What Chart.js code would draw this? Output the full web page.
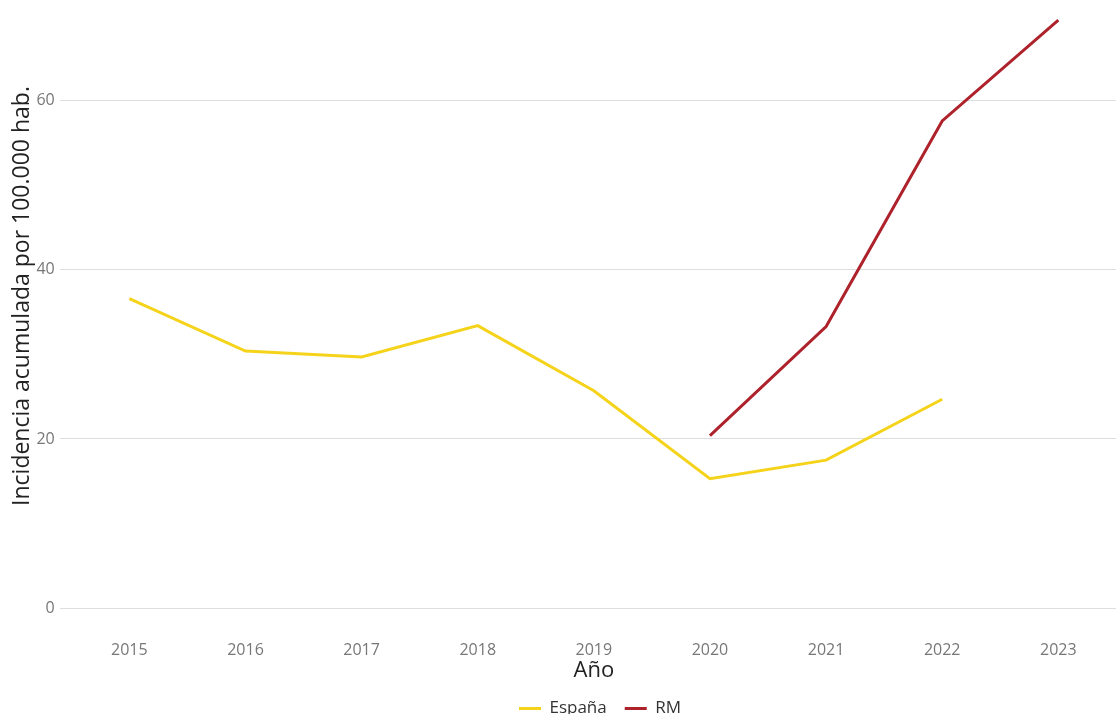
<!DOCTYPE html>
<html>
<head>
<meta charset="utf-8">
<script src="https://cdn.jsdelivr.net/npm/chart.js@4/dist/chart.umd.min.js"></script>
<style>
  html, body { margin: 0; padding: 0; background: #fff; overflow: hidden; }
  #wrap { width: 1116px; height: 714px; overflow: hidden; }
  #incChart { display: block; margin-top: -13px; }
</style>
</head>
<body>
<div id="wrap"><canvas id="incChart" width="1200" height="740"></canvas></div>
<script>
const years = [2015, 2016, 2017, 2018, 2019, 2020, 2021, 2022, 2023];
const espana = [36.6, 30.4, 29.7, 33.4, 25.7, 15.3, 17.5, 24.7, null];
const rm = [null, null, null, null, null, 20.4, 33.3, 57.6, 69.5];
const yTicks = [0, 20, 40, 60];
const yTitle = 'Incidencia acumulada por 100.000 hab.';

function toPoints(vals) {
    return years.map((y, i) => ({ x: y, y: vals[i] })).filter(p => p.y !== null);
}

const fontFam = '"Open Sans", "Noto Sans", sans-serif';

// y title drawn by hand, a bit above the plot centre like the original
const yTitlePlugin = {
    id: 'yTitlePlugin',
    afterLayout(chart) {
        // legend is centred on the whole figure, not on the plot
        chart.legend.left += 36;
        chart.legend.right += 36;
    },
    afterDraw(chart) {
        const c = chart.ctx;
        c.save();
        c.translate(22, 296 + 13);
        c.rotate(-Math.PI / 2);
        c.fillStyle = '#222';
        c.font = '23px ' + fontFam;
        c.textAlign = 'center';
        c.textBaseline = 'middle';
        c.fillText(yTitle, 0, 0);
        c.restore();
    }
};

const ctx = document.getElementById('incChart').getContext('2d');
const incChart = new Chart(ctx, {
    type: 'line',
    data: {
        datasets: [
            {
                label: 'España',
                data: toPoints(espana),
                borderColor: '#F5D31A',
                backgroundColor: '#F5D31A',
                borderWidth: 3,
                pointRadius: 0,
                tension: 0
            },
            {
                label: 'RM',
                data: toPoints(rm),
                borderColor: '#AE222C',
                backgroundColor: '#AE222C',
                borderWidth: 3,
                pointRadius: 0,
                tension: 0
            }
        ]
    },
    options: {
        responsive: false,
        animation: false,
        layout: { padding: { left: 0, right: 72, top: 0, bottom: 0 } },
        scales: {
            x: {
                type: 'linear',
                min: 2014.4,
                max: 2023.6,
                afterBuildTicks: axis => { axis.ticks = years.map(v => ({ value: v })); },
                grid: { display: false, drawTicks: false },
                border: { display: false },
                ticks: {
                    color: '#777',
                    font: { family: fontFam, size: 16 },
                    padding: 3,
                    callback: v => String(v)
                },
                title: {
                    display: true,
                    text: 'Año',
                    color: '#222',
                    font: { family: fontFam, size: 22, lineHeight: 0.727 },
                    padding: { top: 0, bottom: 3 }
                }
            },
            y: {
                min: -3.5,
                max: 71.7,
                afterBuildTicks: axis => { axis.ticks = yTicks.map(v => ({ value: v })); },
                grid: { color: '#dedede', lineWidth: 1, drawTicks: false },
                border: { display: false },
                ticks: {
                    color: '#777',
                    font: { family: fontFam, size: 16 },
                    padding: 5
                },
                title: {
                    display: true,
                    text: yTitle,
                    color: 'rgba(0,0,0,0)',
                    font: { family: fontFam, size: 22 },
                    padding: { top: 3, bottom: 2 }
                }
            }
        },
        plugins: {
            legend: {
                position: 'bottom',
                labels: {
                    usePointStyle: true,
                    pointStyle: 'line',
                    pointStyleWidth: 22,
                    color: '#333',
                    font: { family: fontFam, size: 17 },
                    padding: 18
                }
            },
            tooltip: { enabled: false }
        }
    },
    plugins: [yTitlePlugin]
});
</script>
</body>
</html>
